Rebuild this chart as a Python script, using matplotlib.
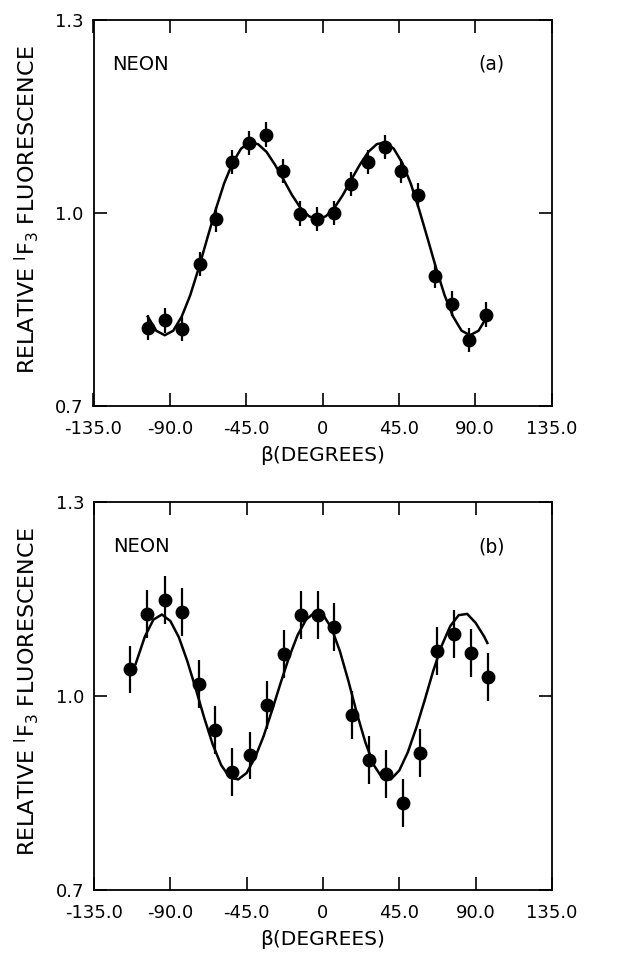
import matplotlib
matplotlib.use("Agg")
import matplotlib.pyplot as plt

plt.rcParams['font.family'] = ['DejaVu Sans']
plt.rcParams['mathtext.default'] = 'regular'

# ---------------- data ----------------
# panel (a) measured points
beta_a = [-102.7, -92.6, -82.6, -72.4, -63.0, -53.2, -43.4, -33.3, -23.1, -13.1, -3.3,
          6.8, 16.6, 26.8, 36.6, 46.4, 56.2, 66.5, 76.3, 86.5, 96.3]
rel_a = [0.822, 0.833, 0.820, 0.921, 0.990, 1.079, 1.109, 1.122, 1.065, 0.999, 0.991,
         1.000, 1.045, 1.079, 1.103, 1.065, 1.028, 0.902, 0.859, 0.803, 0.842]
err_a = 0.019

# panel (a) fitted curve
curve_a_x = [-103, -98, -93, -88, -83, -78, -73, -68, -63, -58, -53, -48, -43, -38, -33,
             -28, -23, -18, -13, -8, -3, 2, 7, 12, 17, 22, 27, 32, 37, 42, 47, 52, 57,
             62, 67, 72, 77, 82, 87, 92, 97]
curve_a_y = [0.839, 0.817, 0.810, 0.817, 0.839, 0.872, 0.914, 0.960, 1.005, 1.046, 1.078,
             1.100, 1.110, 1.107, 1.095, 1.075, 1.052, 1.028, 1.008, 0.995, 0.990, 0.995,
             1.008, 1.028, 1.052, 1.075, 1.095, 1.107, 1.110, 1.100, 1.078, 1.046, 1.005,
             0.960, 0.914, 0.872, 0.839, 0.817, 0.810, 0.817, 0.839]

# panel (b) measured points
beta_b = [-113.8, -103.5, -93.3, -83.3, -73.1, -63.7, -53.4, -43.0, -32.8, -23.0, -12.8,
          -3.1, 6.7, 16.9, 27.1, 37.3, 47.2, 57.0, 67.0, 77.2, 87.4, 97.3]
rel_b = [1.041, 1.127, 1.148, 1.130, 1.018, 0.947, 0.882, 0.908, 0.986, 1.065, 1.125,
         1.125, 1.107, 0.971, 0.901, 0.880, 0.835, 0.912, 1.070, 1.096, 1.067, 1.029]
err_b = 0.037

# panel (b) fitted curve
curve_b_x = [-110.4, -105, -100, -95, -90, -85, -80, -75, -70, -65, -60, -55, -50, -45,
             -40, -35, -30, -25, -20, -15, -10, -5, 0, 5, 10, 15, 20, 25, 30, 35, 40, 45,
             50, 55, 60, 65, 70, 75, 80, 85, 90, 95, 96.9]
curve_b_y = [1.050, 1.092, 1.118, 1.126, 1.116, 1.091, 1.054, 1.011, 0.966, 0.925, 0.893,
             0.874, 0.871, 0.881, 0.905, 0.938, 0.978, 1.020, 1.060, 1.094, 1.118, 1.129,
             1.126, 1.105, 1.069, 1.023, 0.973, 0.928, 0.893, 0.873, 0.871, 0.885, 0.913,
             0.951, 0.994, 1.039, 1.078, 1.108, 1.125, 1.127, 1.113, 1.092, 1.082]

x_ticks = [-135, -90, -45, 0, 45, 90, 135]
x_ticklabels = ['-135.0', '-90.0', '-45.0', '0', '45.0', '90.0', '135.0']
y_ticks = [0.7, 1.0, 1.3]
y_ticklabels = ['0.7', '1.0', '1.3']
panel_tags = ['(a)', '(b)']
gas_label = 'NEON'
xlabel = 'β(DEGREES)'
ylabel = r'RELATIVE ${}^{I}F_{3}$ FLUORESCENCE'

# ---------------- figure ----------------
W, H = 619, 959
fig = plt.figure(figsize=(W / 100, H / 100), dpi=100)

ax_a = fig.add_axes([93.5 / W, 1 - 406 / H, 458 / W, 386 / H])
ax_b = fig.add_axes([94.0 / W, 1 - 890 / H, 458 / W, 388 / H])

panels = [
    (ax_a, beta_a, rel_a, err_a, curve_a_x, curve_a_y, panel_tags[0]),
    (ax_b, beta_b, rel_b, err_b, curve_b_x, curve_b_y, panel_tags[1]),
]

for ax, bx, by, be, cx, cy, tag in panels:
    ax.plot(cx, cy, color='black', lw=1.8, zorder=2)
    ax.errorbar(bx, by, yerr=be, fmt='o', color='black', ms=9, elinewidth=1.6,
                capsize=0, zorder=3)
    ax.set_xlim(-135, 135)
    ax.set_ylim(0.7, 1.3)
    ax.set_xticks(x_ticks)
    ax.set_xticklabels(x_ticklabels)
    ax.set_yticks(y_ticks)
    ax.set_yticklabels(y_ticklabels)
    ax.tick_params(axis='both', direction='in', top=True, right=True, length=9.5,
                   width=1.2, labelsize=13, colors='black')
    ax.tick_params(axis='x', pad=10)
    ax.tick_params(axis='y', pad=7)
    for sp in ax.spines.values():
        sp.set_linewidth(1.3)
    ax.text(0.041, 0.885, gas_label, transform=ax.transAxes, fontsize=14,
            ha='left', va='center')
    ax.text(0.868, 0.885, tag, transform=ax.transAxes, fontsize=13.5,
            ha='center', va='center')
    ax.set_xlabel(xlabel, fontsize=14.5, labelpad=6)

# y labels as figure text (rotated)
fig.text(27 / W, 1 - 210 / H, ylabel, rotation=90, ha='center', va='center', fontsize=16)
fig.text(27 / W, 1 - 692 / H, ylabel, rotation=90, ha='center', va='center', fontsize=16)

fig.savefig('out.png', dpi=100)
